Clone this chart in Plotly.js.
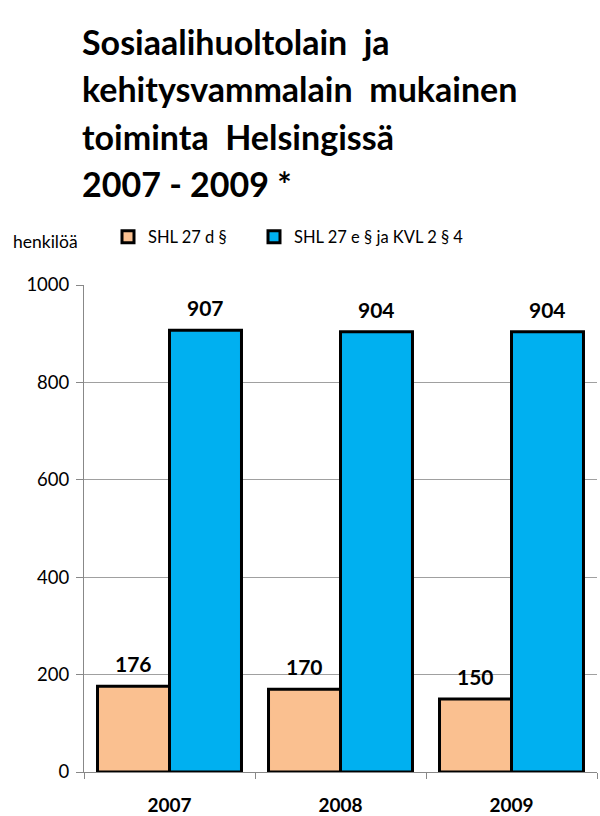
<!DOCTYPE html>
<html>
<head>
<meta charset="utf-8">
<script src="https://cdn.plot.ly/plotly-3.0.1.min.js"></script>
<style>html,body{margin:0;padding:0;background:#fff;}#chart{width:600px;height:816px;}</style>
</head>
<body>
<div id="chart"></div>
<script>
const years = ['2007', '2008', '2009'];
const shl27d = [176, 170, 150];
const shl27eKvl = [907, 904, 904];
const seriesNames = ['SHL 27 d §', 'SHL 27 e § ja KVL 2 § 4'];
const titleLines = ['Sosiaalihuoltolain  ja', 'kehitysvammalain  mukainen', 'toiminta  Helsingissä', '2007 - 2009 *'];
const yTicks = [0, 200, 400, 600, 800, 1000];

const F = 'Lato, "Open Sans", sans-serif';
const labelFont = {family: F, size: 21, color: '#000', weight: 'bold'};

const traces = [
  {type: 'bar', name: seriesNames[0], x: years, y: shl27d, legend: 'legend',
   marker: {color: '#FAC090', line: {color: '#000', width: 3}}},
  {type: 'bar', name: seriesNames[1], x: years, y: shl27eKvl, legend: 'legend2',
   marker: {color: '#00B0F0', line: {color: '#000', width: 3}}}
];

const plotL = 84, plotR = 597, plotTop = 285, plotBottom = 772;
const W = plotR - plotL, H = plotBottom - plotTop;
const bargap = 0.158;
const halfBar = W / years.length * (1 - bargap) / 4;

const annotations = [];
const baselines = [55, 102, 150, 197];
titleLines.forEach((t, i) => annotations.push({
  text: '<b>' + t + '</b>', xref: 'paper', yref: 'paper', x: (80 - plotL) / W, y: (plotBottom - baselines[i] - 9) / H,
  xanchor: 'left', yanchor: 'bottom', showarrow: false, font: {family: F, size: 34, color: '#000'}
}));
annotations.push({text: 'henkilöä', xref: 'paper', yref: 'paper', x: (11 - plotL) / W, y: (plotBottom - 241) / H,
  xanchor: 'left', yanchor: 'middle', showarrow: false, font: {family: F, size: 17.5, color: '#000'}});
[shl27d, shl27eKvl].forEach((vals, s) => vals.forEach((v, i) => annotations.push({
  text: '<b>' + v + '</b>', xref: 'x', yref: 'y', x: i, y: v, xshift: (s === 0 ? -1 : 1) * halfBar,
  yshift: 8, xanchor: 'center', yanchor: 'bottom', showarrow: false, font: labelFont
})));

const legendBase = {orientation: 'h', xanchor: 'left', yanchor: 'middle', y: (plotBottom - 237) / H,
  font: {family: F, size: 16.5, color: '#000'}, bgcolor: 'rgba(0,0,0,0)'};

const layout = {
  width: 600, height: 816,
  margin: {l: plotL, r: 600 - plotR, t: plotTop, b: 816 - plotBottom},
  paper_bgcolor: '#fff', plot_bgcolor: '#fff',
  barmode: 'group', bargap: bargap, bargroupgap: 0,
  showlegend: true,
  legend: Object.assign({}, legendBase, {x: (108 - plotL) / W}),
  legend2: Object.assign({}, legendBase, {x: (254 - plotL) / W}),
  xaxis: {type: 'category', range: [-0.5, years.length - 0.5], tickson: 'boundaries', ticks: 'outside', ticklen: 6, tickcolor: '#888',
    showline: true, linecolor: '#888', linewidth: 1, showgrid: false, ticklabelstandoff: 16,
    tickfont: {family: F, size: 19, color: '#000', weight: 'bold'}},
  yaxis: {range: [0, 1000], tickvals: yTicks, ticks: 'outside', ticklen: 7, tickcolor: '#888',
    showline: true, linecolor: '#888', linewidth: 1, showgrid: true, gridcolor: '#A0A0A0', gridwidth: 1,
    zeroline: false, ticklabelstandoff: 3, tickfont: {family: F, size: 18.5, color: '#000'}},
  annotations: annotations
};

Plotly.newPlot('chart', traces, layout, {displayModeBar: false, staticPlot: true});
</script>
</body>
</html>
